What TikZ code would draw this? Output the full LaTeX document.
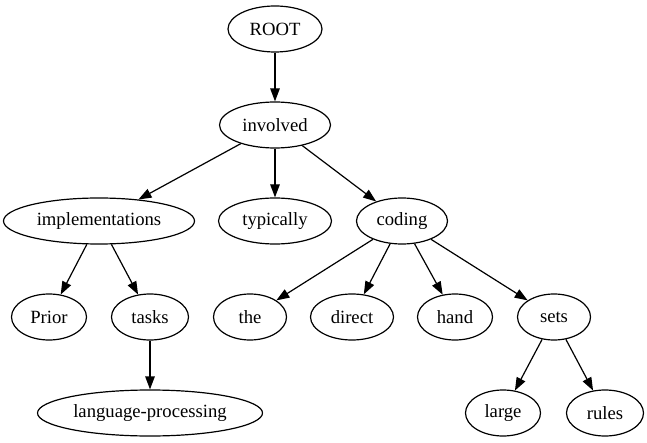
\documentclass[tikz,border=0pt]{standalone}
\usepackage{fontspec}
\setmainfont{Liberation Serif}
\usetikzlibrary{shapes.geometric,arrows.meta}

\begin{document}
\begin{tikzpicture}[x=1pt,y=-1pt,
  word/.style={ellipse,draw=black,line width=1.2pt,inner sep=0pt,
    minimum height=46pt,font=\fontsize{18.67}{22}\selectfont},
  dep/.style={draw=black,line width=1.2pt,
    -{Triangle[length=13pt,width=9.5pt]}}]
  \useasboundingbox (0,0) rectangle (647,443);

  % rank 0 and 1
  \node[word,minimum width=94pt]  (root)   at (275,29)  {ROOT};
  \node[word,minimum width=111pt] (invol)  at (275,125) {involved};

  % rank 2
  \node[word,minimum width=191pt] (impl)   at (99,221)  {implementations};
  \node[word,minimum width=113pt] (typ)    at (275,221) {typically};
  \node[word,minimum width=91pt]  (coding) at (402,221) {coding};

  % rank 3
  \node[word,minimum width=75pt]  (prior)  at (49,317)  {Prior};
  \node[word,minimum width=77pt]  (tasks)  at (150,317) {tasks};
  \node[word,minimum width=73pt]  (the)    at (250,317) {the};
  \node[word,minimum width=83pt]  (direct) at (352,317) {direct};
  \node[word,minimum width=75pt]  (hand)   at (455,317) {hand};
  \node[word,minimum width=73pt]  (sets)   at (554,317) {sets};

  % rank 4
  \node[word,minimum width=225pt] (lang)   at (150,413) {language-processing};
  \node[word,minimum width=75pt]  (large)  at (503,413) {large};
  \node[word,minimum width=77pt]  (rules)  at (605,413) {rules};

  % dependency arcs
  \draw[dep] (root)   -- (invol);
  \draw[dep] (invol)  -- (impl);
  \draw[dep] (invol)  -- (typ);
  \draw[dep] (invol)  -- (coding);
  \draw[dep] (impl)   -- (prior);
  \draw[dep] (impl)   -- (tasks);
  \draw[dep] (tasks)  -- (lang);
  \draw[dep] (coding) -- (the);
  \draw[dep] (coding) -- (direct);
  \draw[dep] (coding) -- (hand);
  \draw[dep] (coding) -- (sets);
  \draw[dep] (sets)   -- (large);
  \draw[dep] (sets)   -- (rules);
\end{tikzpicture}
\end{document}
